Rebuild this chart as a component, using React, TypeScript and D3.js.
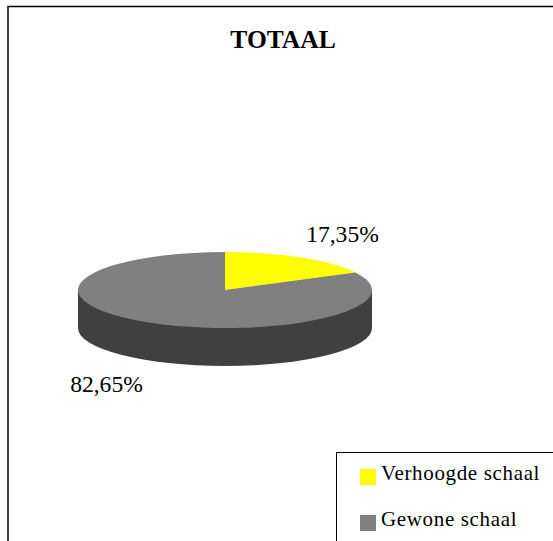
import React, { useEffect, useRef } from 'react';
import * as d3 from 'd3';

const categories = ['Verhoogde schaal', 'Gewone schaal'];
const values = [17.35, 82.65];
const valueLabels = ['17,35%', '82,65%'];
const colors = ['#ffff00', '#808080'];
const sideColor = '#404040';
const title = 'TOTAAL';

const width = 553;
const height = 541;
const serif = '"Liberation Serif", "Times New Roman", serif';

const App = () => {
  const svgRef = useRef<SVGSVGElement>(null);

  useEffect(() => {
    const svg = d3.select(svgRef.current);
    svg.selectAll('*').remove();

    // outer chart frame, cut off by the window on the right and bottom
    svg.append('rect')
      .attr('x', 8)
      .attr('y', 6.5)
      .attr('width', 600)
      .attr('height', 600)
      .attr('fill', '#fff')
      .attr('stroke', '#000')
      .attr('stroke-width', 1.5);

    svg.append('text')
      .attr('x', 283)
      .attr('y', 48)
      .attr('text-anchor', 'middle')
      .attr('font-family', serif)
      .attr('font-weight', 'bold')
      .attr('font-size', 25.5)
      .text(title);

    // pie is drawn on a unit circle, then squashed to fake the 3d tilt
    const cx = 225;
    const cy = 290;
    const rx = 147;
    const ry = 38;
    const depth = 38;

    const pie = d3.pie<number>().sort(null);
    const arcs = pie(values);
    const arc = d3.arc<d3.PieArcDatum<number>>().innerRadius(0).outerRadius(1);

    svg.append('path')
      .attr('d', `M${cx - rx},${cy} V${cy + depth} A${rx},${ry} 0 0 0 ${cx + rx},${cy + depth} V${cy} Z`)
      .attr('fill', sideColor);

    svg.append('g')
      .attr('transform', `translate(${cx},${cy}) scale(${rx},${ry})`)
      .selectAll('path')
      .data(arcs)
      .join('path')
      .attr('d', arc)
      .attr('fill', (_, i) => colors[i]);

    svg.selectAll('text.value')
      .data(valueLabels)
      .join('text')
      .attr('class', 'value')
      .attr('x', (_, i) => [342.5, 106.5][i])
      .attr('y', (_, i) => [242, 392][i])
      .attr('text-anchor', 'middle')
      .attr('font-family', serif)
      .attr('font-size', 23.6)
      .attr('fill', '#000')
      .text((d) => d);

    // legend box
    svg.append('rect')
      .attr('x', 336.5)
      .attr('y', 452.5)
      .attr('width', 300)
      .attr('height', 200)
      .attr('fill', '#fff')
      .attr('stroke', '#000')
      .attr('stroke-width', 1);

    const legendY = d3.scalePoint<string>()
      .domain(categories)
      .range([469, 515]);

    const rows = svg.selectAll('g.legend')
      .data(categories)
      .join('g')
      .attr('class', 'legend')
      .attr('transform', (d) => `translate(360,${legendY(d)})`);

    rows.append('rect')
      .attr('width', 16)
      .attr('height', 16)
      .attr('fill', (_, i) => colors[i]);

    rows.append('text')
      .attr('x', 21)
      .attr('y', 11)
      .attr('font-family', serif)
      .attr('font-size', 21)
      .attr('letter-spacing', 0.65)
      .attr('fill', '#000')
      .text((d) => d);
  }, []);

  return (
    <svg
      ref={svgRef}
      width={width}
      height={height}
      style={{ position: 'fixed', left: 0, top: 0, display: 'block' }}
    />
  );
};

export default App;
